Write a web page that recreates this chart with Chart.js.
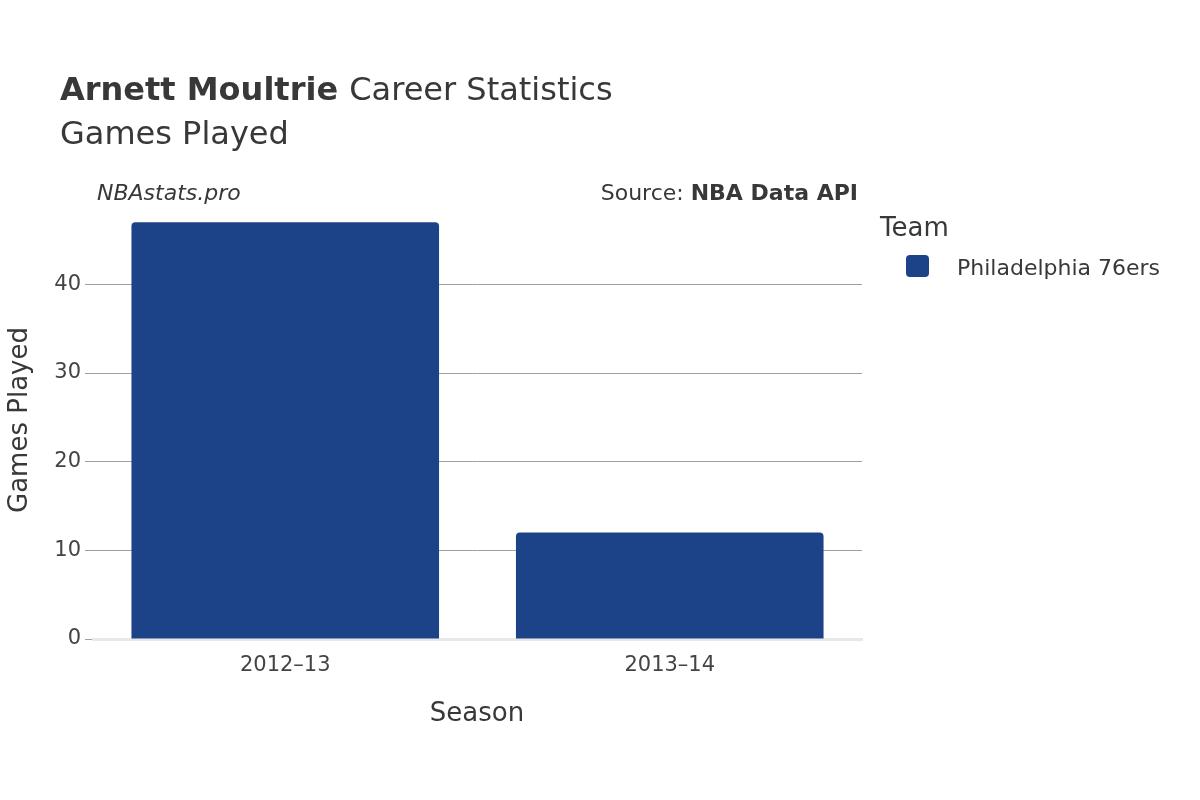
<!DOCTYPE html>
<html><head><meta charset="utf-8">
<script src="https://cdn.jsdelivr.net/npm/chart.js@4/dist/chart.umd.min.js"></script>
<style>html,body{margin:0;background:#fff}#w{width:1200px;height:800px}</style>
</head><body><div id="w"><canvas id="c"></canvas></div>
<script>
const seasons = ["2012–13", "2013–14"];
const gamesPlayed = [47, 12];
const teamName = "Philadelphia 76ers";
const yTicks = [0, 10, 20, 30, 40];
const F = "'DejaVu Sans', sans-serif";
const txt = {
  id: 'txt',
  afterDraw(ch) {
    const c = ch.ctx; c.save(); c.fillStyle = '#383838'; c.textBaseline = 'alphabetic';
    c.font = "bold 32px " + F; c.textAlign = 'left';
    c.fillText("Arnett Moultrie", 60, 100);
    const w = c.measureText("Arnett Moultrie ").width;
    c.font = "32px " + F; c.fillText("Career Statistics", 60 + w, 100);
    c.fillText("Games Played", 60, 144);
    c.font = "italic 22px " + F; c.fillText("NBAstats.pro", 97, 200);
    c.textAlign = 'right'; c.font = "bold 22px " + F; c.fillText("NBA Data API", 858, 200);
    const bw = c.measureText("NBA Data API").width;
    c.font = "22px " + F; c.fillText("Source: ", 858 - bw, 200);
    c.textAlign = 'left'; c.font = "26px " + F; c.fillText("Team", 880, 236);
    c.font = "22px " + F; c.fillText(teamName, 957, 275);
    c.fillStyle = '#1c4387'; c.beginPath(); c.roundRect(906, 255, 23, 22, 4); c.fill();
    c.fillStyle = '#383838'; c.textAlign = 'center'; c.font = "26px " + F;
    c.fillText("Season", 477, 721);
    c.translate(27, 420); c.rotate(-Math.PI / 2); c.fillText("Games Played", 0, 0);
    c.restore();
  }
};
new Chart(document.getElementById('c'), {
  type: 'bar',
  data: { labels: seasons, datasets: [{ label: teamName, data: gamesPlayed, backgroundColor: '#1c4387', borderRadius: 4, borderSkipped: 'bottom', barPercentage: 0.8, categoryPercentage: 1 }] },
  options: {
    responsive: true, maintainAspectRatio: false, animation: false,
    layout: { padding: { left: 0, top: 209, right: 338, bottom: 0 } },
    plugins: { legend: { display: false }, tooltip: { enabled: false } },
    scales: {
      x: { afterFit(s) { s.height = 161; }, grid: { display: false }, border: { color: '#e8e8e8', width: 3 },
           ticks: { color: '#444', font: { family: F, size: 21 }, padding: 6 } },
      y: { min: 0, max: 48.5, afterFit(s) { s.width = 93; },
           afterBuildTicks(s) { s.ticks = yTicks.map(v => ({ value: v })); },
           grid: { color: ctx => ctx.tick && ctx.tick.value === 0 ? 'rgba(0,0,0,0)' : '#a0a0a0', tickLength: 8, tickColor: '#a0a0a0' },
           border: { display: false },
           ticks: { color: '#444', font: { family: F, size: 21 }, padding: 4 } }
    }
  },
  plugins: [txt]
});
</script></body></html>
